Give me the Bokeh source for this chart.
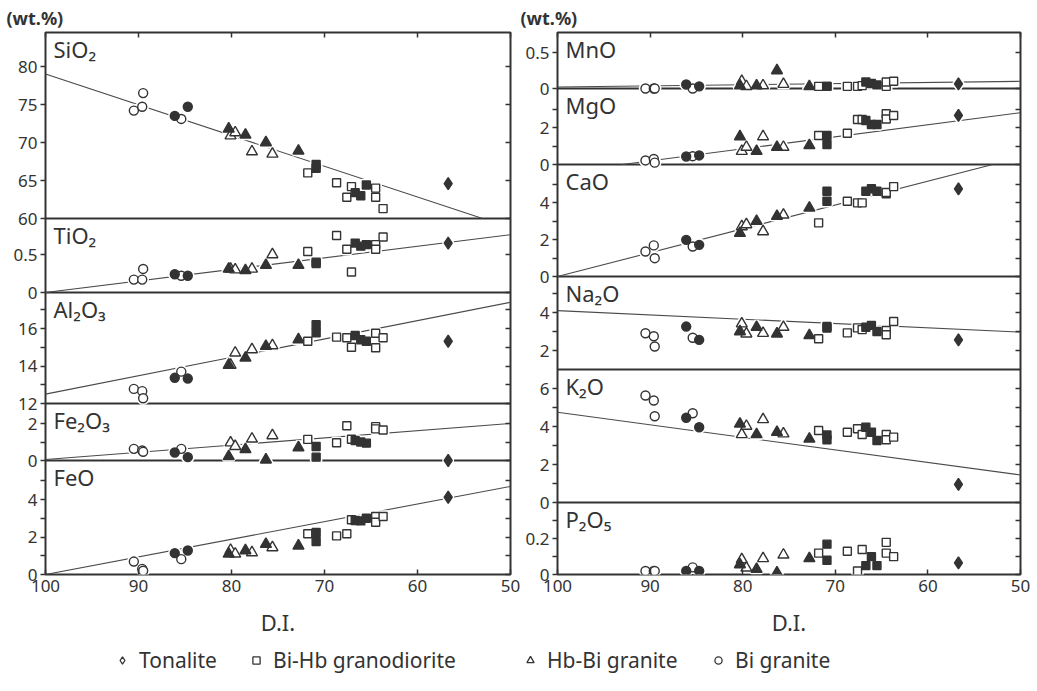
from bokeh.plotting import figure
from bokeh.models import Range1d, LinearAxis, FixedTicker, Label, Legend, LegendItem
from bokeh.layouts import row, column
from bokeh.embed import file_html
from bokeh.resources import INLINE

# ---------------- data ----------------
# one entry per sample: differentiation index, rock type, filled symbol?
di = [90.5, 89.6, 89.5, 85.4, 86.1, 84.7,
      80.1, 79.6, 77.8, 75.6, 80.3, 78.5, 76.3, 72.8,
      71.8, 68.7, 67.6, 67.1, 64.5, 64.5, 63.7, 70.9, 70.9, 66.7, 66.1, 65.5,
      56.7]
rock = (["Bi granite"] * 6 + ["Hb-Bi granite"] * 8 +
        ["Bi-Hb granodiorite"] * 12 + ["Tonalite"])
filled = ([False] * 4 + [True] * 2 + [False] * 4 + [True] * 4 +
          [False] * 7 + [True] * 5 + [True])

sio2 = [74.2, 74.7, 76.5, 73.1, 73.5, 74.7, 70.9, 71.3, 68.8, 68.5, 71.8, 71.0, 70.0, 68.9,
        66.0, 64.7, 62.8, 64.2, 64.0, 62.8, 61.3, 67.1, 66.6, 63.4, 63.0, 64.4, 64.6]
tio2 = [0.17, 0.17, 0.31, 0.22, 0.24, 0.22, 0.31, 0.30, 0.31, 0.50, 0.31, 0.29, 0.36, 0.36,
        0.54, 0.75, 0.57, 0.27, 0.63, 0.57, 0.73, 0.40, 0.38, 0.65, 0.61, 0.63, 0.65]
al2o3 = [12.78, 12.66, 12.28, 13.70, 13.37, 13.33, 14.05, 14.70, 14.88, 15.09, 14.05, 14.43, 15.06, 15.41,
         15.32, 15.54, 15.51, 15.00, 15.75, 14.97, 15.51, 16.20, 15.77, 15.63, 15.40, 15.32, 15.32]
fe2o3 = [0.63, 0.54, 0.47, 0.63, 0.43, 0.18, 0.96, 0.77, 1.17, 1.35, 0.22, 0.60, 0.04, 0.70,
         1.14, 0.96, 1.88, 1.15, 1.83, 1.71, 1.65, 0.76, 0.18, 1.08, 1.00, 0.94, 0.0]
feo = [0.69, 0.30, 0.20, 0.82, 1.14, 1.28, 1.30, 1.10, 1.17, 1.44, 1.10, 1.28, 1.62, 1.53,
       2.17, 2.06, 2.17, 2.92, 3.09, 2.79, 3.09, 2.24, 1.76, 2.88, 2.86, 3.00, 4.12]
mno = [0.0, 0.0, 0.0, 0.0, 0.056, 0.03, 0.10, 0.03, 0.04, 0.06, 0.04, 0.04, 0.25, 0.03,
       0.03, 0.03, 0.03, 0.04, 0.03, 0.09, 0.10, 0.03, 0.03, 0.09, 0.07, 0.05, 0.065]
mgo = [0.22, 0.30, 0.10, 0.45, 0.43, 0.49, 0.72, 0.94, 1.51, 0.94, 1.51, 0.72, 0.94, 1.03,
       1.57, 1.69, 2.43, 2.43, 2.74, 2.46, 2.65, 1.57, 1.08, 2.38, 2.16, 2.16, 2.65]
cao = [1.35, 1.68, 0.99, 1.62, 1.98, 1.71, 2.70, 2.81, 2.43, 3.33, 2.34, 2.99, 3.26, 3.71,
       2.90, 4.07, 3.98, 3.98, 4.47, 4.54, 4.86, 4.61, 4.07, 4.61, 4.74, 4.61, 4.74]
na2o = [2.91, 2.75, 2.21, 2.67, 3.26, 2.56, 3.41, 2.88, 2.91, 3.23, 3.00, 3.23, 2.88, 2.79,
        2.62, 2.93, 3.19, 3.10, 3.05, 2.83, 3.53, 3.26, 3.18, 3.22, 3.32, 3.00, 2.56]
k2o = [5.63, 5.37, 4.54, 4.70, 4.46, 3.96, 3.58, 4.02, 4.37, 3.62, 4.14, 3.58, 3.70, 3.35,
       3.79, 3.70, 3.88, 3.58, 3.58, 3.30, 3.44, 3.55, 3.30, 3.96, 3.70, 3.26, 0.95]
p2o5 = [0.02, 0.02, 0.02, 0.04, 0.02, 0.02, 0.084, 0.037, 0.09, 0.11, 0.056, 0.03, 0.01, 0.09,
        0.12, 0.13, 0.02, 0.14, 0.18, 0.12, 0.10, 0.17, 0.08, 0.05, 0.10, 0.05, 0.065]

# trend lines (D.I. end points, oxide end points)
trend_sio2 = ([100, 53], [79.0, 60.0])
trend_tio2 = ([100, 50], [0.0, 0.76])
trend_al2o3 = ([100, 50], [12.5, 17.4])
trend_fe2o3 = ([100, 50], [0.05, 2.0])
trend_feo = ([100, 50], [0.0, 4.7])
trend_mno = ([100, 50], [0.02, 0.10])
trend_mgo = ([93, 50], [0.0, 2.8])
trend_cao = ([100, 53], [0.0, 6.05])
trend_na2o = ([100, 50], [4.1, 2.97])
trend_k2o = ([100, 50], [4.75, 1.45])

# tick values
ticks_sio2, minor_sio2 = [60, 65, 70, 75, 80], []
ticks_tio2, minor_tio2 = [0, 0.5], []
ticks_al2o3, minor_al2o3 = [12, 14, 16], [13, 15, 17]
ticks_fe2o3, minor_fe2o3 = [0, 2], [1]
ticks_feo, minor_feo = [0, 2, 4], [1, 3, 5]
ticks_mno, minor_mno = [0, 0.5], []
ticks_mgo, minor_mgo = [0, 2], [1, 3]
ticks_cao, minor_cao = [0, 2, 4], [1, 3, 5]
ticks_na2o, minor_na2o = [2, 4], [3, 5]
ticks_k2o, minor_k2o = [0, 2, 4, 6], [1, 3, 5]
ticks_p2o5, minor_p2o5 = [0, 0.2], [0.1, 0.3]
di_ticks = [100, 90, 80, 70, 60, 50]

legend_names = ["Tonalite", "Bi-Hb granodiorite", "Hb-Bi granite", "Bi granite"]
unit_text = "(wt.%)"

# ---------------- styling / layout ----------------
FONT = "Noto Sans"
INK = "#333333"
LINE = "#4a4a4a"
FRAME_H = 542
MARKER = {"Tonalite": "diamond", "Bi-Hb granodiorite": "square",
          "Hb-Bi granite": "triangle", "Bi granite": "circle"}
MSIZE = {"diamond": 12, "square": 8, "triangle": 11, "circle": 9}
GROUPS = [("Bi granite", False), ("Bi granite", True), ("Hb-Bi granite", False),
          ("Hb-Bi granite", True), ("Bi-Hb granodiorite", False),
          ("Bi-Hb granodiorite", True), ("Tonalite", True)]


def panel(key, label, values, trend, base, base_px, ppu, ticks, minor):
    return dict(key=key, label=label, values=values, trend=trend, base=base,
                base_px=base_px, ppu=ppu, ticks=ticks, minor=minor)


LEFT = [
    panel("sio2", "SiO\u2082", sio2, trend_sio2, 60, 356, 7.6, ticks_sio2, minor_sio2),
    panel("tio2", "TiO\u2082", tio2, trend_tio2, 0, 282, 76, ticks_tio2, minor_tio2),
    panel("al2o3", "Al\u2082O\u2083", al2o3, trend_al2o3, 12, 171, 18.75, ticks_al2o3, minor_al2o3),
    panel("fe2o3", "Fe\u2082O\u2083", fe2o3, trend_fe2o3, 0, 114, 18.5, ticks_fe2o3, minor_fe2o3),
    panel("feo", "FeO", feo, trend_feo, 0, 0, 18.75, ticks_feo, minor_feo),
]
RIGHT = [
    panel("mno", "MnO", mno, trend_mno, 0, 486, 72, ticks_mno, minor_mno),
    panel("mgo", "MgO", mgo, trend_mgo, 0, 410, 18.5, ticks_mgo, minor_mgo),
    panel("cao", "CaO", cao, trend_cao, 0, 298, 18.5, ticks_cao, minor_cao),
    panel("na2o", "Na\u2082O", na2o, trend_na2o, 1, 205, 19, ticks_na2o, minor_na2o),
    panel("k2o", "K\u2082O", k2o, trend_k2o, 0, 72, 19, ticks_k2o, minor_k2o),
    panel("p2o5", "P\u2082O\u2085", p2o5, None, 0, 0, 178.5, ticks_p2o5, minor_p2o5),
]


def style_axis(ax):
    ax.axis_line_color = None
    ax.major_tick_line_color = INK
    ax.minor_tick_line_color = INK
    ax.major_tick_line_width = 1.5
    ax.minor_tick_line_width = 1.5
    ax.major_label_text_font = FONT
    ax.major_label_text_font_size = "17px"
    ax.major_label_text_color = INK


def build(panels, frame_w, bl, br, wt_offset):
    p = figure(frame_width=frame_w, frame_height=FRAME_H,
               x_range=Range1d(100, 50), y_range=Range1d(0, FRAME_H),
               output_backend="svg", toolbar_location=None,
               min_border_left=bl, min_border_right=br,
               min_border_top=32, min_border_bottom=60)
    p.grid.visible = False
    p.outline_line_color = INK
    p.outline_line_width = 2
    p.background_fill_color = "white"
    p.border_fill_color = "white"

    # unit note above the frame, as the figure title
    p.title.text = unit_text
    p.title.align = "left"
    p.title.offset = wt_offset
    p.title.text_font = FONT
    p.title.text_font_size = "18px"
    p.title.text_font_style = "bold"
    p.title.text_color = INK
    p.title.standoff = 6

    p.extra_y_ranges = {
        pn["key"]: Range1d(pn["base"] - pn["base_px"] / pn["ppu"],
                           pn["base"] + (FRAME_H - pn["base_px"]) / pn["ppu"])
        for pn in panels}

    # ticks of all panels on one shared left / right axis
    major_pos, minor_pos, overrides = [], [], {}
    for pn in panels:
        for t in pn["ticks"]:
            pos = pn["base_px"] + (t - pn["base"]) * pn["ppu"]
            major_pos.append(pos)
            overrides[pos] = str(t)
        for t in pn["minor"]:
            minor_pos.append(pn["base_px"] + (t - pn["base"]) * pn["ppu"])

    yl = p.yaxis[0]
    yl.ticker = FixedTicker(ticks=major_pos, minor_ticks=minor_pos)
    yl.major_label_overrides = overrides
    style_axis(yl)
    yl.major_tick_in, yl.major_tick_out = 0, 5
    yl.minor_tick_in, yl.minor_tick_out = 0, 5
    yl.major_label_standoff = 3

    yr = LinearAxis(ticker=FixedTicker(ticks=major_pos, minor_ticks=minor_pos),
                    major_label_overrides={pos: "" for pos in major_pos})
    style_axis(yr)
    yr.major_tick_in, yr.major_tick_out = 5, 0
    yr.minor_tick_in, yr.minor_tick_out = 5, 0
    yr.major_label_standoff = 0
    p.add_layout(yr, "right")

    xb = p.xaxis[0]
    xb.ticker = FixedTicker(ticks=di_ticks)
    style_axis(xb)
    xb.major_tick_in, xb.major_tick_out = 5, 0
    xb.major_label_standoff = 5
    xb.axis_label = "D.I."
    xb.axis_label_text_font = FONT
    xb.axis_label_text_font_size = "22px"
    xb.axis_label_text_font_style = "normal"
    xb.axis_label_text_color = INK
    xb.axis_label_standoff = 12

    xt = LinearAxis(ticker=FixedTicker(ticks=di_ticks),
                    major_label_overrides={t: "" for t in di_ticks})
    style_axis(xt)
    xt.major_tick_in, xt.major_tick_out = 5, 0
    xt.major_label_standoff = 0
    p.add_layout(xt, "above")

    # boundaries and trend lines
    for pn in panels:
        if pn["base_px"] > 0:
            p.hspan(y=[pn["base"]], y_range_name=pn["key"], line_color=INK, line_width=1.8)
        if pn["trend"] is not None:
            p.line(x=pn["trend"][0], y=pn["trend"][1], y_range_name=pn["key"],
                   line_color=LINE, line_width=1.1)

    # white knock-outs around symbols, then the symbols
    for halo in (True, False):
        for pn in panels:
            for g, f in GROUPS:
                idx = [i for i in range(len(di)) if rock[i] == g and filled[i] == f]
                xs = [di[i] for i in idx]
                ys = [pn["values"][i] for i in idx]
                m = MARKER[g]
                if halo:
                    p.scatter(xs, ys, y_range_name=pn["key"], marker=m, size=MSIZE[m],
                              fill_color="white", line_color="white", line_width=4.5)
                else:
                    p.scatter(xs, ys, y_range_name=pn["key"], marker=m, size=MSIZE[m],
                              fill_color=INK if f else "white", line_color=INK,
                              line_width=1.4)

    # panel names
    top = FRAME_H
    for pn in panels:
        p.add_layout(Label(x=100, y=top, x_offset=8, y_offset=-1, text=pn["label"],
                           text_baseline="top", text_align="left", text_font=FONT,
                           text_font_size="22px", text_color=INK))
        top = pn["base_px"]
    return p


left = build(LEFT, 465, 45, 10, -39)
right = build(RIGHT, 463, 37, 17, -37)

# legend strip (hidden renderers carry each rock type's data; only the key is shown)
lg = figure(width=1037, height=48, output_backend="svg", toolbar_location=None,
            x_axis_location=None, y_axis_location=None, min_border=0,
            x_range=Range1d(0, 1), y_range=Range1d(0, 1))
lg.grid.visible = False
lg.outline_line_color = None
legend_x = [113, 247, 521, 709]
for name, lx in zip(legend_names, legend_x):
    idx = [i for i in range(len(di)) if rock[i] == name]
    r = lg.scatter(x=[di[i] for i in idx], y=[sio2[i] for i in idx],
                   marker=MARKER[name], size=8, fill_color="white",
                   line_color=INK, line_width=1.3, visible=False)
    leg = Legend(items=[LegendItem(label=name, renderers=[r])], location=(lx, 13),
                 orientation="horizontal", padding=0, margin=0, border_line_color=None,
                 background_fill_alpha=0, inactive_fill_alpha=0,
                 glyph_width=18, glyph_height=18,
                 label_standoff=8, label_text_font=FONT, label_text_font_size="21px",
                 label_text_color=INK)
    lg.add_layout(leg)

layout = column(row(left, right), lg)
open("out.html", "w").write(file_html(layout, INLINE, title="Harker variation diagrams"))
